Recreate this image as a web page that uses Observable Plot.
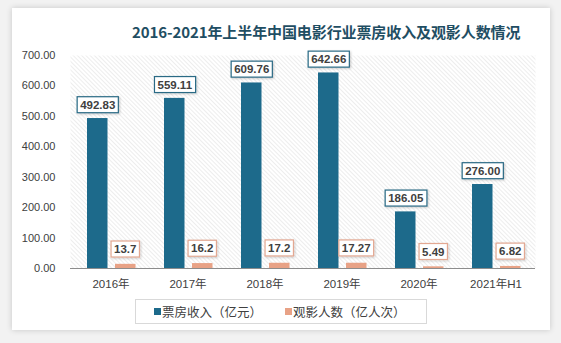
<!DOCTYPE html>
<html>
<head>
<meta charset="utf-8">
<script src="https://cdn.jsdelivr.net/npm/d3@7"></script>
<script src="https://cdn.jsdelivr.net/npm/@observablehq/plot@0.6"></script>
<style>
  html, body { margin: 0; padding: 0; }
  body { width: 561px; height: 343px; background: #f2f2f2; position: relative; overflow: hidden;
         font-family: "Noto Sans CJK SC", "Liberation Sans", sans-serif; }
  #card { position: absolute; left: 12px; top: 8px; width: 538px; height: 322px; background: #fff;
          box-shadow: 0 0 6px rgba(0,0,0,0.18); }
  #chart { position: absolute; left: 0; top: 0; }
  #title { position: absolute; left: 132px; top: 22px; width: 390px; text-align: left;
           font-size: 15px; font-weight: bold; color: #1f4e63; white-space: nowrap; line-height: 20px; letter-spacing: -0.1px; }
  #legend { position: absolute; left: 135px; top: 299px; width: 290px; height: 23px; border: 1px solid #d9d9d9;
            background: #fff; font-size: 12.5px; color: #404040; }
  .li { position: absolute; top: 0; line-height: 23px; white-space: nowrap; }
  .sw { position: absolute; top: 8px; width: 7px; height: 7px; }
</style>
</head>
<body>
<div id="card"></div>
<div id="chart"></div>
<div id="title">2016-2021年上半年中国电影行业票房收入及观影人数情况</div>
<div id="legend">
  <span class="sw" style="left:18px;background:#1d6a8b"></span><span class="li" style="left:26px">票房收入（亿元）</span>
  <span class="sw" style="left:149px;background:#e8a286"></span><span class="li" style="left:157px">观影人数（亿人次）</span>
</div>
<script>
const categories = ["2016年", "2017年", "2018年", "2019年", "2020年", "2021年H1"];
const boxOffice = [492.83, 559.11, 609.76, 642.66, 186.05, 276.00];
const audience = [13.7, 16.2, 17.2, 17.27, 5.49, 6.82];
const audienceLabels = ["13.7", "16.2", "17.2", "17.27", "5.49", "6.82"];
const yTicks = [0, 100, 200, 300, 400, 500, 600, 700];

const blue = "#1d6a8b";
const orange = "#e8a286";

const rowsA = categories.map((c, i) => ({cat: c, v: boxOffice[i], label: boxOffice[i].toFixed(2)}));
const rowsB = categories.map((c, i) => ({cat: c, v: audience[i], label: audienceLabels[i]}));

const plot = Plot.plot({
  width: 561,
  height: 343,
  marginLeft: 70,
  marginRight: 26,
  marginTop: 55,
  marginBottom: 75,
  style: {background: "transparent", fontFamily: "'Liberation Sans', 'Noto Sans CJK SC', sans-serif", color: "#404040"},
  x: {domain: categories, padding: 0, label: null},
  y: {domain: [0, 700], label: null},
  marks: [
    Plot.frame({fill: "url(#hatch)", stroke: "none"}),
    Plot.axisY({ticks: yTicks, tickFormat: d => d.toFixed(2), tickSize: 0, tickPadding: 15, fontSize: 11, label: null}),
    Plot.axisX({tickSize: 0, tickPadding: 11, fontSize: 11.5, label: null}),
    Plot.barY(rowsA, {x: "cat", y: "v", fill: blue, insetLeft: 15, insetRight: 41.5}),
    Plot.barY(rowsB, {x: "cat", y: "v", fill: orange, insetLeft: 43, insetRight: 13.5}),
    Plot.ruleY([0], {stroke: "#8c8c8c", strokeWidth: 1}),
    Plot.text(rowsA, {x: "cat", y: "v", text: "label", dx: -13.25, dy: -13.5, fontSize: 11.5, fontWeight: "bold", fill: "#404040", className: "lbl-blue"}),
    Plot.text(rowsB, {x: "cat", y: "v", text: "label", dx: 14.25, dy: -15, fontSize: 11.5, fontWeight: "bold", fill: "#404040", className: "lbl-orange"})
  ]
});

document.getElementById("chart").appendChild(plot);

// hatch pattern
const ns = "http://www.w3.org/2000/svg";
const defs = document.createElementNS(ns, "defs");
defs.innerHTML = `<pattern id="hatch" patternUnits="userSpaceOnUse" width="3" height="3" patternTransform="rotate(-45)">
  <rect width="3" height="3" fill="#ffffff"/><line x1="0" y1="0" x2="0" y2="3" stroke="#dcdcdc" stroke-width="1"/></pattern>
  <filter id="sh" x="-20%" y="-20%" width="150%" height="150%"><feDropShadow dx="1" dy="1" stdDeviation="0.8" flood-color="#000" flood-opacity="0.2"/></filter>`;
plot.insertBefore(defs, plot.firstChild);

// label boxes
function boxes(cls, stroke) {
  plot.querySelectorAll("g." + cls + " text").forEach(t => {
    const b = t.getBBox();
    const r = document.createElementNS(ns, "rect");
    const padX = 3, padY = 2;
    r.setAttribute("x", b.x - padX);
    r.setAttribute("y", b.y - padY);
    r.setAttribute("width", b.width + 2 * padX);
    r.setAttribute("height", b.height + 2 * padY);
    r.setAttribute("fill", "#fff");
    r.setAttribute("stroke", stroke);
    r.setAttribute("stroke-width", 1.2);
    r.setAttribute("filter", "url(#sh)");
    if (t.getAttribute("transform")) r.setAttribute("transform", t.getAttribute("transform"));
    t.parentNode.insertBefore(r, t);
  });
}
boxes("lbl-blue", "#2a6a85");
boxes("lbl-orange", "#e3a892");
</script>
</body>
</html>
